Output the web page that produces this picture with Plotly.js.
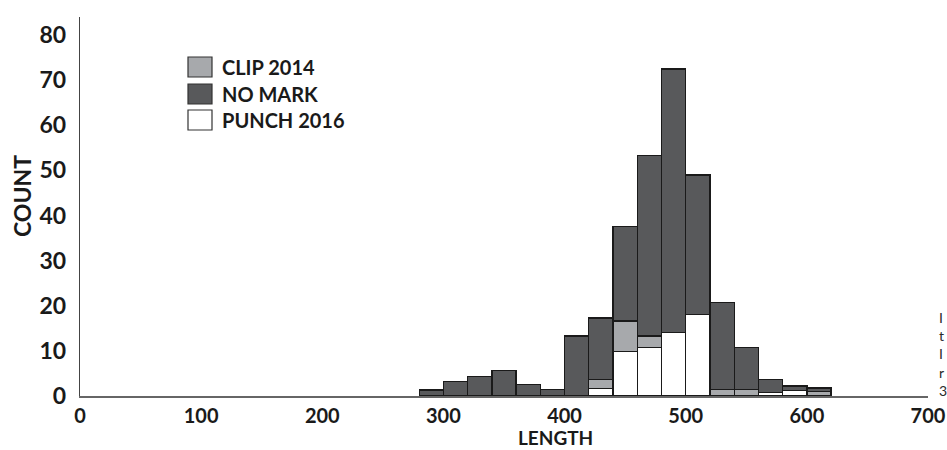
<!DOCTYPE html>
<html>
<head>
<meta charset="utf-8">
<script src="https://cdn.plot.ly/plotly-3.0.1.min.js"></script>
<style>
  html, body { margin: 0; padding: 0; background: #ffffff; }
  #chart { width: 947px; height: 450px; }
</style>
</head>
<body>
<div id="chart"></div>
<script>
// Bin centres (LENGTH), bins are 20 wide
var binCenters = [290, 310, 330, 350, 370, 390, 410, 430, 450, 470, 490, 510, 530, 550, 570, 590, 610];
var binWidth = 20;
// Counts per series (stacked bottom to top: PUNCH 2016, CLIP 2014, NO MARK)
var punch2016 = [0, 0, 0, 0, 0, 0, 0, 1.6, 9.8, 10.7, 14.0, 18.1, 0, 0, 0.7, 1.2, 0];
var clip2014  = [0, 0, 0, 0, 0, 0, 0, 2.0, 6.8, 2.6, 0, 0, 1.4, 1.4, 0, 0, 1.0];
var noMark    = [1.3, 3.2, 4.4, 5.7, 2.6, 1.5, 13.3, 13.7, 20.9, 40.0, 58.5, 30.9, 19.4, 9.3, 3.0, 1.0, 0.8];

var legendNames = ["CLIP 2014", "NO MARK", "PUNCH 2016"];
var xTickVals = [0, 100, 200, 300, 400, 500, 600, 700];
var yTickVals = [0, 10, 20, 30, 40, 50, 60, 70, 80];
var xTitle = "LENGTH";
var yTitle = "COUNT";
var sideText = "I<br>t<br>I<br>r<br>3";

var colors = { "CLIP 2014": "#a7a9ac", "NO MARK": "#58595b", "PUNCH 2016": "#ffffff" };
var FONT = "Lato, 'Open Sans', sans-serif";
var TXT = "#1a1a1a";

function barTrace(name, vals) {
  return {
    type: "bar",
    name: name,
    x: binCenters,
    y: vals,
    width: binWidth,
    marker: { color: colors[name], line: { color: "#1a1a1a", width: 1.3 } },
    showlegend: false,
    hoverinfo: "x+y+name"
  };
}

var data = [
  barTrace("PUNCH 2016", punch2016),
  barTrace("CLIP 2014", clip2014),
  barTrace("NO MARK", noMark)
];

// custom legend (squares + labels) in paper coordinates
var L = 80, R = 19, T = 17, B = 54, W = 947, H = 450;
var pw = W - L - R, ph = H - T - B;
function px2x(p) { return (p - L) / pw; }
function px2y(p) { return (H - B - p) / ph; }

var shapes = [];
var annotations = [];
var rowCenters = [67, 94, 120];
legendNames.forEach(function (n, i) {
  var c = rowCenters[i];
  shapes.push({
    type: "rect", xref: "paper", yref: "paper",
    x0: px2x(188), x1: px2x(212), y0: px2y(c + 10), y1: px2y(c - 10),
    fillcolor: colors[n], line: { color: "#333333", width: 1.2 }
  });
  annotations.push({
    xref: "paper", yref: "paper", x: px2x(220), y: px2y(c),
    xanchor: "left", yanchor: "middle", showarrow: false,
    text: n, font: { family: FONT, size: 20, color: TXT, weight: 700 }
  });
});

annotations.push({
  xref: "paper", yref: "paper", x: px2x(555), y: px2y(450),
  xanchor: "center", yanchor: "bottom", showarrow: false, borderpad: 0,
  text: xTitle, font: { family: FONT, size: 19, color: TXT, weight: 700 }
});
annotations.push({
  xref: "paper", yref: "paper", x: px2x(22), y: px2y(196),
  xanchor: "center", yanchor: "middle", showarrow: false, textangle: -90,
  text: yTitle, font: { family: FONT, size: 23, color: TXT, weight: 700 }
});
annotations.push({
  xref: "paper", yref: "paper", x: px2x(937), y: px2y(354),
  xanchor: "left", yanchor: "middle", showarrow: false, align: "left",
  text: sideText, font: { family: FONT, size: 14, color: "#2a2a2a" }
});

var layout = {
  width: W, height: H,
  margin: { l: L, r: R, t: T, b: B, pad: 0 },
  paper_bgcolor: "#ffffff",
  plot_bgcolor: "#ffffff",
  barmode: "stack",
  bargap: 0,
  font: { family: FONT, color: TXT },
  xaxis: {
    range: [0, 700],
    tickvals: xTickVals,
    ticktext: xTickVals.map(String),
    ticks: "outside",
    ticklen: 1,
    tickcolor: "rgba(0,0,0,0)",
    showgrid: false,
    zeroline: false,
    showline: true,
    linecolor: "#666666",
    linewidth: 2,
    ticklabeloverflow: "allow",
    tickfont: { family: FONT, size: 20, color: TXT, weight: 700 },
    fixedrange: true
  },
  yaxis: {
    range: [0, 84],
    tickvals: yTickVals,
    ticktext: yTickVals.map(String),
    ticks: "outside",
    ticklen: 8,
    tickcolor: "rgba(0,0,0,0)",
    showgrid: false,
    zeroline: false,
    showline: true,
    linecolor: "#444444",
    linewidth: 1.3,
    tickfont: { family: FONT, size: 23, color: TXT, weight: 700 },
    fixedrange: true
  },
  shapes: shapes,
  annotations: annotations
};

Plotly.newPlot("chart", data, layout, { displayModeBar: false, staticPlot: true });
</script>
</body>
</html>
